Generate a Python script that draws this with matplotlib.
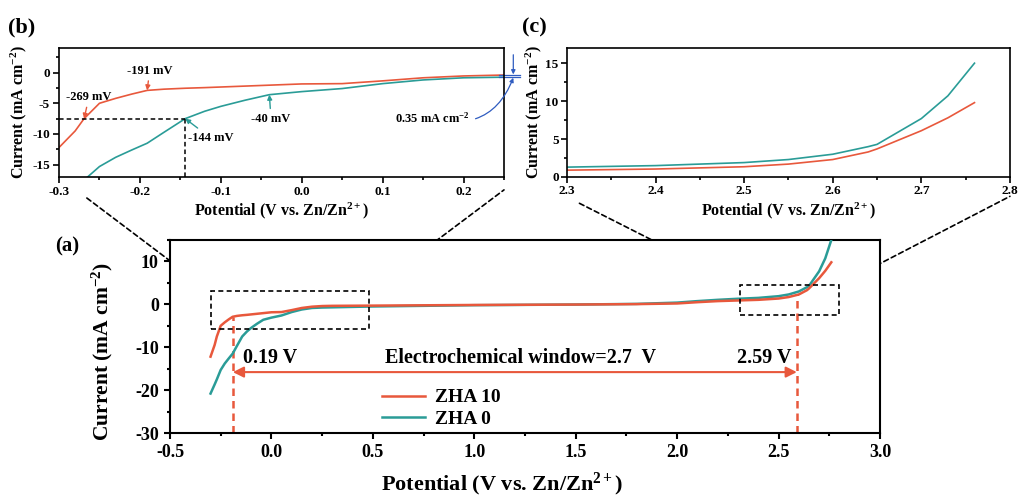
import matplotlib
matplotlib.use("Agg")
import matplotlib.pyplot as plt
from matplotlib.patches import Rectangle, ConnectionPatch
from matplotlib.ticker import MultipleLocator

plt.rcParams['font.family'] = ['Liberation Serif', 'DejaVu Serif']
plt.rcParams['font.weight'] = 'bold'
plt.rcParams['axes.labelweight'] = 'bold'
plt.rcParams['axes.unicode_minus'] = False
plt.rcParams['mathtext.fontset'] = 'custom'
plt.rcParams['mathtext.rm'] = 'Liberation Serif:bold'
plt.rcParams['mathtext.bf'] = 'Liberation Serif:bold'
plt.rcParams['mathtext.it'] = 'Liberation Serif:bold'
plt.rcParams['mathtext.default'] = 'rm'

# LSV data (V vs. Zn/Zn2+, mA cm-2)
potential = [-0.30, -0.28, -0.269, -0.25, -0.23, -0.21, -0.191, -0.17, -0.144,
             -0.12, -0.10, -0.07, -0.04, 0.00, 0.05, 0.10, 0.15, 0.20, 0.25,
             0.30, 0.50, 1.00, 1.50, 1.80, 2.00, 2.10, 2.20, 2.30, 2.40, 2.50,
             2.55, 2.60, 2.64, 2.65, 2.70, 2.73, 2.76]
zha10 = [-12.2, -9.5, -7.5, -5.0, -4.2, -3.5, -2.9, -2.7, -2.55,
         -2.45, -2.35, -2.2, -2.05, -1.85, -1.8, -1.35, -0.85, -0.55, -0.4,
         -0.35, -0.3, -0.15, -0.05, 0.05, 0.2, 0.5, 0.75, 0.9, 1.05, 1.35,
         1.7, 2.3, 3.3, 3.7, 6.1, 7.8, 9.8]
zha0 = [-20.8, -18.7, -17.5, -15.3, -13.8, -12.6, -11.5, -9.7, -7.5,
        -6.3, -5.5, -4.5, -3.6, -3.1, -2.6, -1.8, -1.2, -0.85, -0.75,
        -0.7, -0.5, -0.2, -0.05, 0.1, 0.4, 0.75, 1.05, 1.3, 1.5, 1.9,
        2.3, 3.0, 4.0, 4.3, 7.7, 10.7, 15.0]

labels = ['ZHA 10', 'ZHA 0']
onset_low = -0.19      # cathodic limit (V)
onset_high = 2.59      # anodic limit (V)
window_y = -15.8
zoom_low = (-0.30, 0.48, -5.8, 3.0)
zoom_high = (2.31, 2.80, -2.4, 4.6)

red = '#E8583C'
teal = '#2A9C97'
blue = '#2F5CC0'

XLAB = 'Potential (V vs. Zn/Zn$^{2+}$)'
YLAB = 'Current (mA cm$^{-2}$)'

fig = plt.figure(figsize=(10.19, 4.98), dpi=100)
ax = fig.add_axes([0.1668, 0.1305, 0.6968, 0.3876])
axb = fig.add_axes([0.0579, 0.6446, 0.4367, 0.259])
axc = fig.add_axes([0.5564, 0.6446, 0.4347, 0.259])


def style_axes(a, size, lw, pad):
    for s in a.spines.values():
        s.set_linewidth(lw)
    a.tick_params(which='both', direction='out', width=lw, labelsize=size, pad=pad)
    a.tick_params(which='major', length=4)
    a.tick_params(which='minor', length=2.5)
    plt.setp(a.get_xticklabels() + a.get_yticklabels(), fontweight='bold')


# ---- (a) full window ----
ax.plot(potential, zha0, color=teal, lw=1.8, label=labels[1], zorder=3)
ax.plot(potential, zha10, color=red, lw=1.8, label=labels[0], zorder=4)
ax.set_xlim(-0.5, 3.0)
ax.set_ylim(-30, 15)
ax.xaxis.set_major_locator(MultipleLocator(0.5))
ax.xaxis.set_minor_locator(MultipleLocator(0.25))
ax.yaxis.set_major_locator(MultipleLocator(10))
ax.yaxis.set_minor_locator(MultipleLocator(5))
style_axes(ax, 13, 1.5, 4)
ax.set_xlabel(XLAB, fontsize=16)
ax.set_ylabel(YLAB, fontsize=15.5)
ax.xaxis.set_label_coords(0.468, -0.198)
ax.yaxis.set_label_coords(-0.078, 0.425)

for xv in (onset_low, onset_high):
    yv = zha10[min(range(len(potential)), key=lambda i: abs(potential[i] - xv))]
    ax.plot([xv, xv], [-30, yv], color=red, lw=1.8, ls=(0, (3, 2)), zorder=2)

ax.annotate('', xy=(onset_low, window_y), xytext=(onset_high, window_y),
            arrowprops=dict(arrowstyle='<|-|>', color=red, lw=1.5,
                            mutation_scale=16, shrinkA=0, shrinkB=0))
ax.text(-0.14, -12.5, '0.19 V', fontsize=14.5, va='center', ha='left')
ax.text(1.23, -12.5, 'Electrochemical window=2.7  V', fontsize=14.5,
        va='center', ha='center')
ax.text(2.43, -12.5, '2.59 V', fontsize=14.5, va='center', ha='center')

handles, labs = ax.get_legend_handles_labels()
ax.legend(handles[::-1], labs[::-1], loc='upper left', bbox_to_anchor=(0.274, 0.32),
          frameon=False, fontsize=14, handlelength=2.2, labelspacing=0.2,
          handletextpad=0.5)

for x0, x1, y0, y1 in (zoom_low, zoom_high):
    ax.add_patch(Rectangle((x0, y0), x1 - x0, y1 - y0, fill=False,
                           ec='black', lw=1.2, ls=(0, (3, 2)), zorder=5))

fig.text(0.054, 0.505, '(a)', fontsize=15, va='center', ha='left')

# ---- (b) cathodic zoom ----
axb.plot(potential, zha10, color=red, lw=1.2)
axb.plot(potential, zha0, color=teal, lw=1.2)
axb.set_xlim(-0.3, 0.25)
axb.set_ylim(-17, 4)
axb.xaxis.set_major_locator(MultipleLocator(0.1))
axb.xaxis.set_minor_locator(MultipleLocator(0.05))
axb.yaxis.set_major_locator(MultipleLocator(5))
axb.yaxis.set_minor_locator(MultipleLocator(2.5))
style_axes(axb, 9.5, 1.2, 2.5)
axb.set_xlabel(XLAB, fontsize=11.5, labelpad=2)
axb.set_ylabel(YLAB, fontsize=11.5, labelpad=2)

axb.plot([-0.3, -0.144], [-7.5, -7.5], color='black', lw=1.1, ls=(0, (3, 2)))
axb.plot([-0.144, -0.144], [-17, -7.5], color='black', lw=1.1, ls=(0, (3, 2)))

arr = dict(arrowstyle='-|>', lw=1.0, mutation_scale=7, shrinkA=1, shrinkB=0)
axb.annotate('-191 mV', xy=(-0.191, -2.9), xytext=(-0.188, 0.3), fontsize=9,
             ha='center', va='center', arrowprops=dict(arr, color=red))
axb.annotate('-269 mV', xy=(-0.269, -7.5), xytext=(-0.263, -4.0), fontsize=9,
             ha='center', va='center', arrowprops=dict(arr, color=red))
axb.annotate('-144 mV', xy=(-0.144, -7.5), xytext=(-0.113, -10.6), fontsize=9,
             ha='center', va='center', arrowprops=dict(arr, color=teal))
axb.annotate('-40 mV', xy=(-0.04, -3.6), xytext=(-0.038, -7.5), fontsize=9,
             ha='center', va='center', arrowprops=dict(arr, color=teal))

# gap between the two curves at the right edge
gap_hi, gap_lo = zha10[potential.index(0.25)], zha0[potential.index(0.25)]
for yv in (gap_hi, gap_lo):
    axb.plot([0.244, 0.27], [yv, yv], color=blue, lw=0.9, clip_on=False)
axb.annotate('', xy=(0.2615, gap_hi + 0.1), xytext=(0.2615, 2.9),
             annotation_clip=False,
             arrowprops=dict(arrowstyle='-|>', color=blue, lw=0.9,
                             mutation_scale=6, shrinkA=0, shrinkB=0))
axb.annotate('0.35 mA cm$^{-2}$', xy=(0.2615, gap_lo - 0.1), xytext=(0.162, -7.4),
             fontsize=9, ha='center', va='center', annotation_clip=False,
             arrowprops=dict(arrowstyle='-|>', color=blue, lw=0.9,
                             mutation_scale=6, shrinkA=2, shrinkB=0,
                             connectionstyle='arc3,rad=0.45'))

fig.text(0.008, 0.944, '(b)', fontsize=16, va='center', ha='left')

# ---- (c) anodic zoom ----
axc.plot(potential, zha10, color=red, lw=1.2)
axc.plot(potential, zha0, color=teal, lw=1.2)
axc.set_xlim(2.3, 2.8)
axc.set_ylim(0, 17)
axc.xaxis.set_major_locator(MultipleLocator(0.1))
axc.xaxis.set_minor_locator(MultipleLocator(0.05))
axc.yaxis.set_major_locator(MultipleLocator(5))
axc.yaxis.set_minor_locator(MultipleLocator(2.5))
style_axes(axc, 9.5, 1.2, 2)
axc.set_xlabel(XLAB, fontsize=11.5, labelpad=2)
axc.set_ylabel(YLAB, fontsize=11.5, labelpad=1)

fig.text(0.512, 0.944, '(c)', fontsize=16, va='center', ha='left')

# dashed guide lines from the boxes up to the insets
links = [
    ((zoom_low[0], zoom_low[3]), axb, (0.0, 0.0), 25),
    ((zoom_low[1], zoom_low[3]), axb, (1.0, -0.1), 0),
    ((zoom_high[0], zoom_high[3]), axc, (0.0, -0.155), 10),
    ((zoom_high[1], zoom_high[3]), axc, (1.0, -0.15), 0),
]
for xyA, target, xyB, shrink in links:
    con = ConnectionPatch(xyA=xyA, coordsA=ax.transData, xyB=xyB,
                          coordsB=target.transAxes, color='black', lw=1.2,
                          ls=(0, (3, 2)), shrinkA=0, shrinkB=shrink)
    con.set_zorder(0)
    fig.add_artist(con)

fig.savefig('out.png', dpi=100)
